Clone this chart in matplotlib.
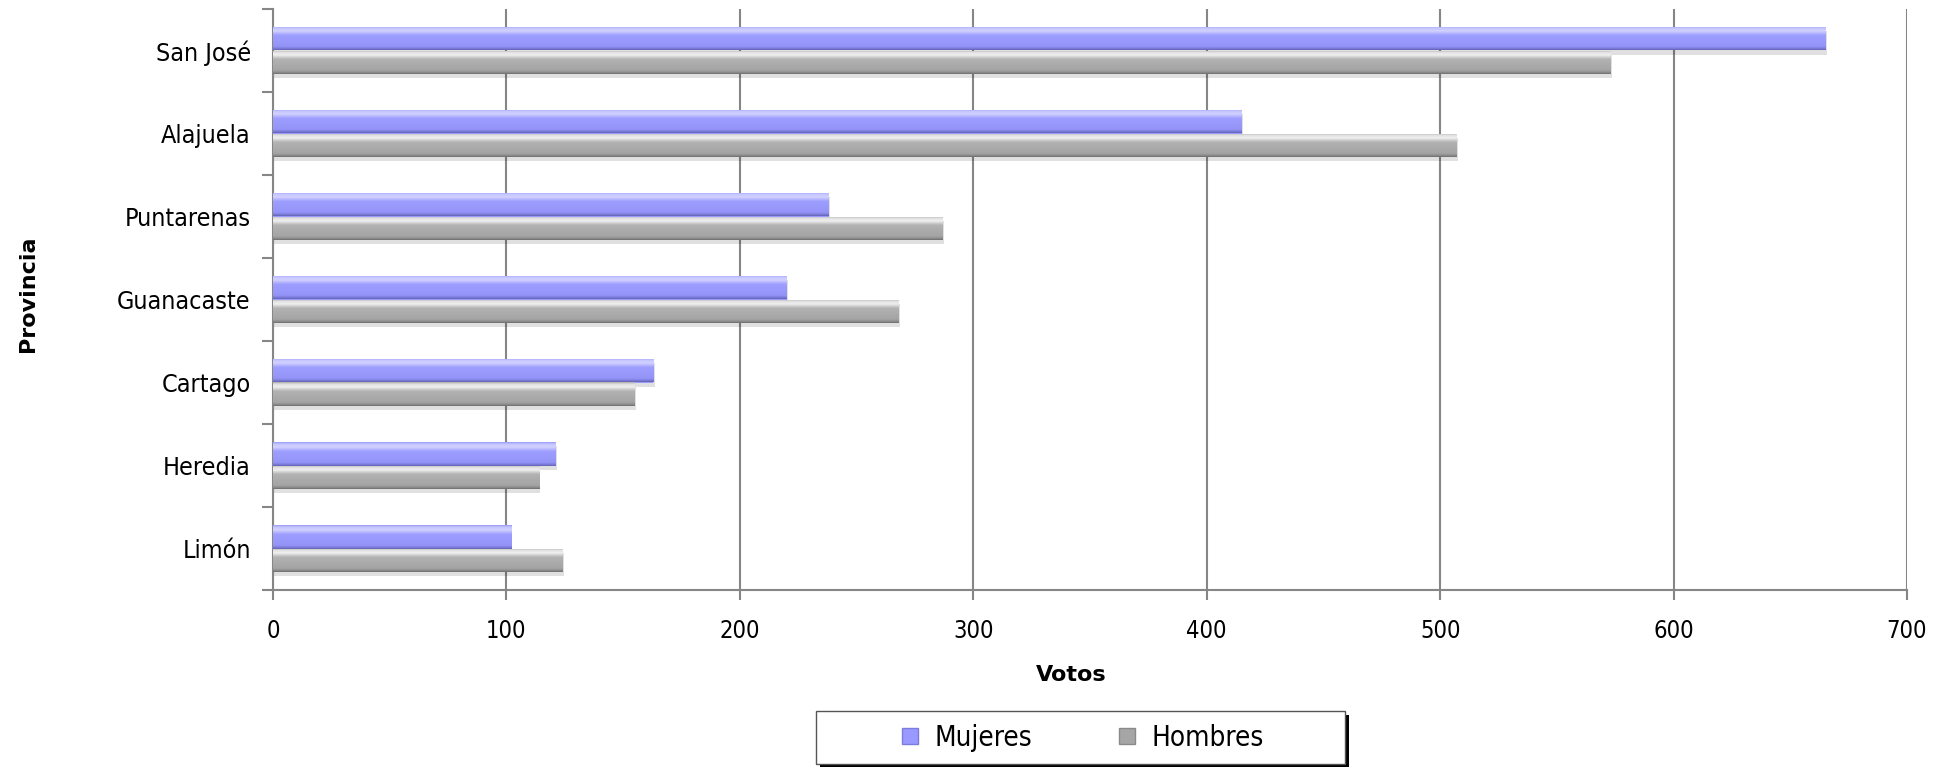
import numpy as np
import matplotlib
matplotlib.use("Agg")
import matplotlib.pyplot as plt
import matplotlib.patheffects as pe
from matplotlib.colors import LinearSegmentedColormap
from matplotlib.lines import Line2D
from matplotlib.patches import Rectangle

provincias = ["San José", "Alajuela", "Puntarenas", "Guanacaste", "Cartago", "Heredia", "Limón"]
mujeres = [665, 415, 238, 220, 163, 121, 102]
hombres = [573, 507, 287, 268, 155, 114, 124]
xticks = [0, 100, 200, 300, 400, 500, 600, 700]

plt.rcParams['font.family'] = ['DejaVu Sans']

W, H = 1938, 767
fig = plt.figure(figsize=(W / 100, H / 100), dpi=100)
ax = fig.add_axes([273 / W, 1 - 590 / H, (1907 - 273) / W, (590 - 9) / H])

y = np.arange(len(provincias))
h = 0.28
off = 0.14

cm_m = LinearSegmentedColormap.from_list("m", [(0, "#9a9af8"), (0.08, "#c6c6ff"), (0.2, "#d2d2ff"),
                                               (0.38, "#9e9eff"), (0.85, "#9494f8"), (0.94, "#7c7cda"),
                                               (1, "#6464b4")])
cm_h = LinearSegmentedColormap.from_list("h", [(0, "#acacac"), (0.08, "#e0e0e0"), (0.2, "#efefef"),
                                               (0.38, "#b2b2b2"), (0.85, "#a4a4a4"), (0.94, "#8c8c8c"),
                                               (1, "#6e6e6e")])
grad = np.linspace(0, 1, 64).reshape(-1, 1)

def draw(vals, pos, cmap, base):
    bars = ax.barh(pos, vals, height=h, color=base, edgecolor="none", zorder=3)
    for p in bars.patches:
        p.set_path_effects([pe.SimplePatchShadow(offset=(1, -3), shadow_rgbFace="#000000", alpha=0.12),
                            pe.Normal()])
        x0, y0 = p.get_x(), p.get_y()
        w, hh = p.get_width(), p.get_height()
        im = ax.imshow(grad, cmap=cmap, aspect="auto", extent=(x0, x0 + w, y0 + hh, y0),
                       zorder=4, interpolation="bilinear")
        im.set_clip_path(p)
    return bars

draw(mujeres, y - off, cm_m, "#9999ff")
draw(hombres, y + off, cm_h, "#a6a6a6")

ax.set_xlim(0, 700)
ax.set_ylim(len(provincias) - 0.5, -0.5)
ax.set_xticks(xticks)
ax.set_xticklabels([str(v) for v in xticks], fontsize=17, fontstretch="condensed")
ax.set_yticks(y)
ax.set_yticklabels(provincias, fontsize=18, fontstretch="condensed")
ax.set_yticks(np.arange(-0.5, len(provincias), 1), minor=True)
ax.tick_params(axis="y", which="major", length=0, pad=16)
ax.tick_params(axis="y", which="minor", length=8, width=1.5, color="#868686", direction="out")
ax.tick_params(axis="x", which="major", length=7, width=1.5, color="#868686", direction="out", pad=14)

ax.grid(axis="x", color="#868686", linewidth=1.5, zorder=0)
ax.set_axisbelow(True)
for s in ["top", "right"]:
    ax.spines[s].set_visible(False)
for s in ["left", "bottom"]:
    ax.spines[s].set_color("#868686")
    ax.spines[s].set_linewidth(1.5)

fig.text(1071 / W, 1 - 675 / H, "Votos", ha="center", va="center", fontsize=16, fontweight="bold")
fig.text(28 / W, 1 - 294 / H, "Provincia", ha="center", va="center", rotation=90, fontsize=16,
         fontweight="bold")

# legend frame with shadow
bx0, by0, bx1, by1 = 816, 711, 1345, 764
fig.patches.append(Rectangle((bx0 / W + 4 / W, 1 - by1 / H - 4 / H), (bx1 - bx0) / W, (by1 - by0) / H,
                             transform=fig.transFigure, facecolor="black", edgecolor="none", zorder=1))
fig.patches.append(Rectangle((bx0 / W, 1 - by1 / H), (bx1 - bx0) / W, (by1 - by0) / H,
                             transform=fig.transFigure, facecolor="white", edgecolor="#555555",
                             linewidth=1.0, zorder=2))

handles = [Line2D([], [], marker="s", linestyle="none", markersize=11, markerfacecolor="#9999ff",
                  markeredgecolor="#7c7cdc"),
           Line2D([], [], marker="s", linestyle="none", markersize=11, markerfacecolor="#a6a6a6",
                  markeredgecolor="#8a8a8a")]
leg = fig.legend(handles, ["Mujeres", "Hombres"], loc="center", ncol=2,
                 bbox_to_anchor=(1080 / W, 1 - 738 / H), fontsize=20, frameon=False,
                 handletextpad=0.4, columnspacing=2.9, borderpad=0.2, handlelength=1.0)
leg.set_zorder(5)
for t in leg.get_texts():
    t.set_fontstretch("condensed")

fig.savefig("out.png", dpi=100, facecolor="white")
